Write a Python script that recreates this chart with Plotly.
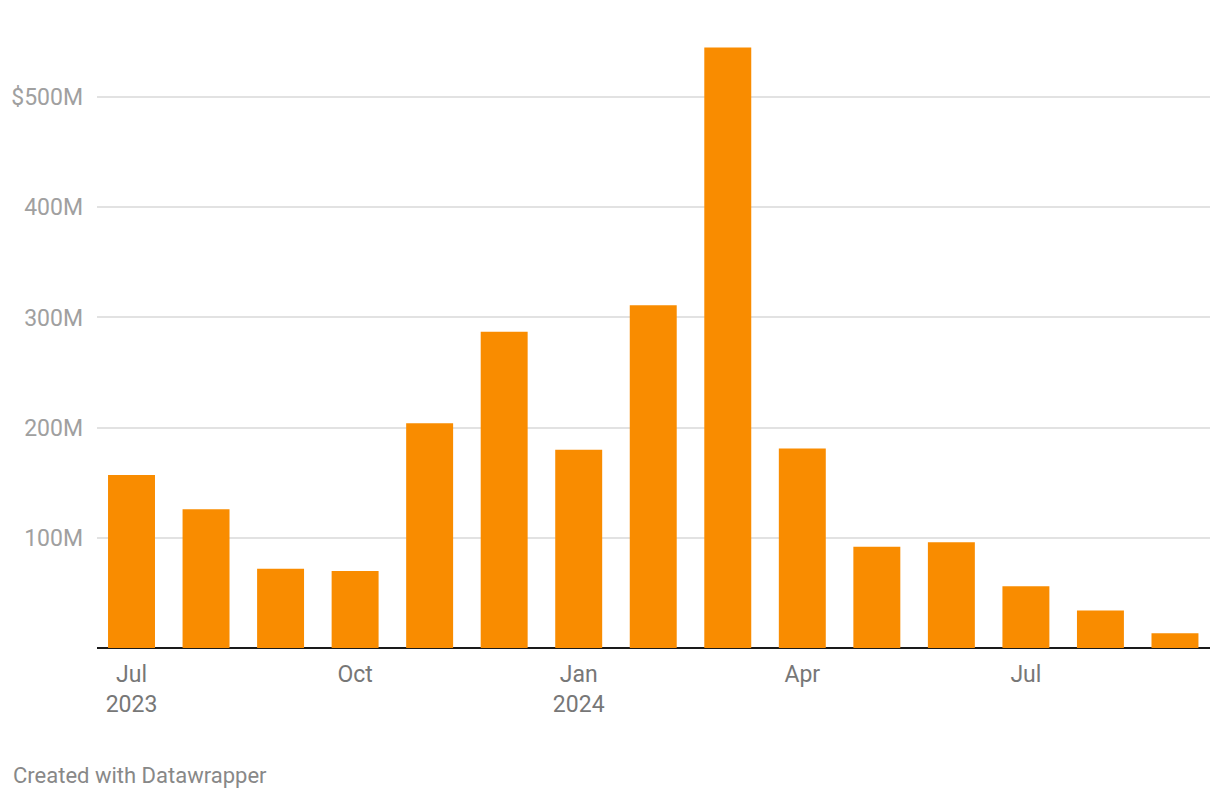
import plotly.graph_objects as go

months = ["2023-07", "2023-08", "2023-09", "2023-10", "2023-11", "2023-12",
          "2024-01", "2024-02", "2024-03", "2024-04", "2024-05", "2024-06",
          "2024-07", "2024-08", "2024-09"]
values = [157, 126, 72, 70, 204, 287, 180, 311, 545, 181, 92, 96, 56, 34, 13.5]

x_tick_vals = ["2023-07", "2023-10", "2024-01", "2024-04", "2024-07"]
x_tick_text = ["Jul<br>2023", "Oct", "Jan<br>2024", "Apr", "Jul"]
y_tick_vals = [100, 200, 300, 400, 500]
y_tick_text = ["100M", "200M", "300M", "400M", "$500M"]

# the page body adds an 8px offset, so sizes are trimmed to compensate
OFF = 8
W, H = 1212, 792
ml, mr, mt, mb = 89, 10, 23, 152
pw, ph = W - ml - mr, H - mt - mb

fig = go.Figure(go.Bar(
    x=months,
    y=values,
    marker=dict(color="#f98c00", line=dict(width=0)),
    hovertemplate="%{x}: $%{y}M<extra></extra>",
))

fig.update_layout(
    width=W, height=H,
    margin=dict(l=ml, r=mr, t=mt, b=mb, autoexpand=False),
    paper_bgcolor="white",
    plot_bgcolor="white",
    bargap=0.37,
    showlegend=False,
    font=dict(family="Roboto, sans-serif", size=23, color="#777777"),
    xaxis=dict(
        type="category",
        range=[-0.463, len(months) - 1 + 0.47],
        tickmode="array",
        tickvals=x_tick_vals,
        ticktext=x_tick_text,
        ticks="outside",
        ticklen=5,
        tickcolor="rgba(0,0,0,0)",
        showgrid=False,
        showline=False,
        automargin=False,
        tickfont=dict(size=23, color="#777777"),
    ),
    yaxis=dict(
        range=[0, 560],
        tickmode="array",
        tickvals=y_tick_vals,
        ticktext=y_tick_text,
        showgrid=True,
        gridcolor="#e2e2e2",
        gridwidth=1.5,
        zeroline=True,
        zerolinecolor="#1a1a1a",
        zerolinewidth=2,
        automargin=False,
        ticklabelstandoff=13,
        tickfont=dict(size=23, color="#a0a0a0"),
    ),
    annotations=[dict(
        text="Created with Datawrapper",
        xref="paper", yref="paper",
        x=(11 - OFF - ml) / pw, y=1 - (776 - OFF - mt) / ph,
        xanchor="left", yanchor="middle",
        showarrow=False,
        font=dict(size=22, color="#888888"),
    )],
)

fig.write_html("out.html")
